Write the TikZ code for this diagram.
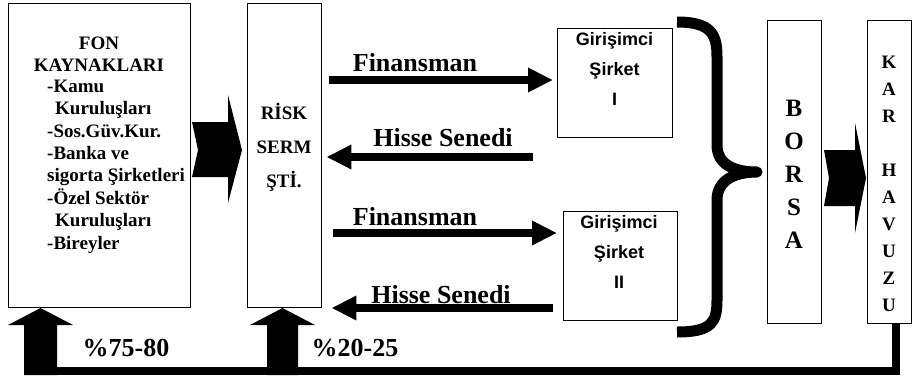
\documentclass[tikz,border=0pt]{standalone}
\usepackage{fontspec}
\setmainfont{Liberation Serif}
\newfontfamily\arialfont{Liberation Sans}
\usetikzlibrary{arrows.meta}

\tikzset{
  box/.style={draw, line width=1.4pt, anchor=north west, inner sep=0pt},
  bigtext/.style={font=\fontsize{26}{30}\selectfont\bfseries, inner sep=0pt},
  smalltext/.style={font=\fontsize{19}{22.4}\selectfont\bfseries, inner sep=0pt},
  firmtext/.style={font=\arialfont\fontsize{18}{30}\selectfont\bfseries, align=center, inner sep=0pt},
  fatarrow/.style={line width=8pt, -{Triangle[length=25pt,width=23pt]}}
}

\begin{document}
\begin{tikzpicture}[x=1pt, y=-1pt]
\useasboundingbox (0,0) rectangle (912,378);

% boxes
\node[box, minimum width=182pt, minimum height=304pt] (fon) at (8,3) {};
\node[box, minimum width=74pt, minimum height=304pt] (risk) at (247,3) {};
\node[box, minimum width=115pt, minimum height=109pt] (gir1) at (557,28) {};
\node[box, minimum width=114pt, minimum height=109pt] (gir2) at (563,211) {};
\node[box, minimum width=54pt, minimum height=303pt] (borsa) at (767,20) {};
\node[box, minimum width=44pt, minimum height=303pt] (kar) at (867,20) {};

% texts in boxes
\node[smalltext, align=center] (fonhead) at (99,54) {FON\\KAYNAKLARI};
\node[smalltext, align=left, anchor=west] (fonlist) at (47,166.5)
  {-Kamu\\\hspace*{8pt}Kuruluşları\\-Sos.Güv.Kur.\\-Banka ve\\sigorta Şirketleri\\-Özel Sektör\\\hspace*{8pt}Kuruluşları\\-Bireyler};
\node[smalltext, align=center, font=\fontsize{19}{34}\selectfont\bfseries] (risktext) at (284,147) {RİSK\\SERM\\ŞTİ.};
\node[firmtext] (gir1text) at (614.5,69) {Girişimci\\Şirket\\I};
\node[firmtext] (gir2text) at (619,252) {Girişimci\\Şirket\\II};
\node[bigtext, align=center, font=\fontsize{25}{33}\selectfont\bfseries] (borsatext) at (794,174) {B\\O\\R\\S\\A};
\node[smalltext, align=center, font=\fontsize{19}{27}\selectfont\bfseries] (kartext) at (889,183.5) {K\\A\\R\\\mbox{}\\H\\A\\V\\U\\Z\\U};

% chevrons
\fill (192,122) -- (228,122) -- (228,95) -- (242,150) -- (228,203) -- (228,177) -- (192,177) -- (198,150) -- cycle;
\fill (824,150) -- (855,150) -- (855,123) -- (866,178) -- (855,233) -- (855,206) -- (824,206) -- (829,178) -- cycle;

% flows between risk and firms
\coordinate (fin1) at (329,80);
\coordinate (his1) at (533,157);
\coordinate (fin2) at (333,233);
\coordinate (his2) at (553,308);
\draw[fatarrow, shorten >=4pt] (fin1) -- (fin1 -| gir1.west);
\draw[fatarrow, shorten >=4pt] (his1) -- (his1 -| risk.east);
\draw[fatarrow, shorten >=6pt] (fin2) -- (fin2 -| gir2.west);
\draw[fatarrow, shorten >=9pt] (his2) -- (his2 -| risk.east);
\node[bigtext] (fin1lab) at (415,63) {Finansman};
\node[bigtext] (his1lab) at (443,138) {Hisse Senedi};
\node[bigtext] (fin2lab) at (415,217) {Finansman};
\node[bigtext] (his2lab) at (441,295) {Hisse Senedi};

% brace
\draw[line width=11pt, line join=round] (677,22) .. controls (712,22) and (717,35) .. (717,57) -- (717,145)
  .. controls (717,165) and (735,172) .. (757,172)
  .. controls (735,172) and (717,180) .. (717,200) -- (717,300)
  .. controls (717,322) and (712,332) .. (677,332);

% return loop
\coordinate (drop) at (896,323);
\coordinate (loopend) at (40,371);
\draw[line width=8pt] (drop) |- (loopend);
\fill (24,375) -- (24,325) -- (8,325) -- (40.5,308) -- (73,325) -- (57,325) -- (57,375) -- cycle;
\fill (267,375) -- (267,325) -- (250,325) -- (282.5,308) -- (315,325) -- (298,325) -- (298,375) -- cycle;
\node[bigtext] (fonshare) at (126,348) {\%75-80};
\node[bigtext] (riskshare) at (355,348) {\%20-25};
\end{tikzpicture}
\end{document}
